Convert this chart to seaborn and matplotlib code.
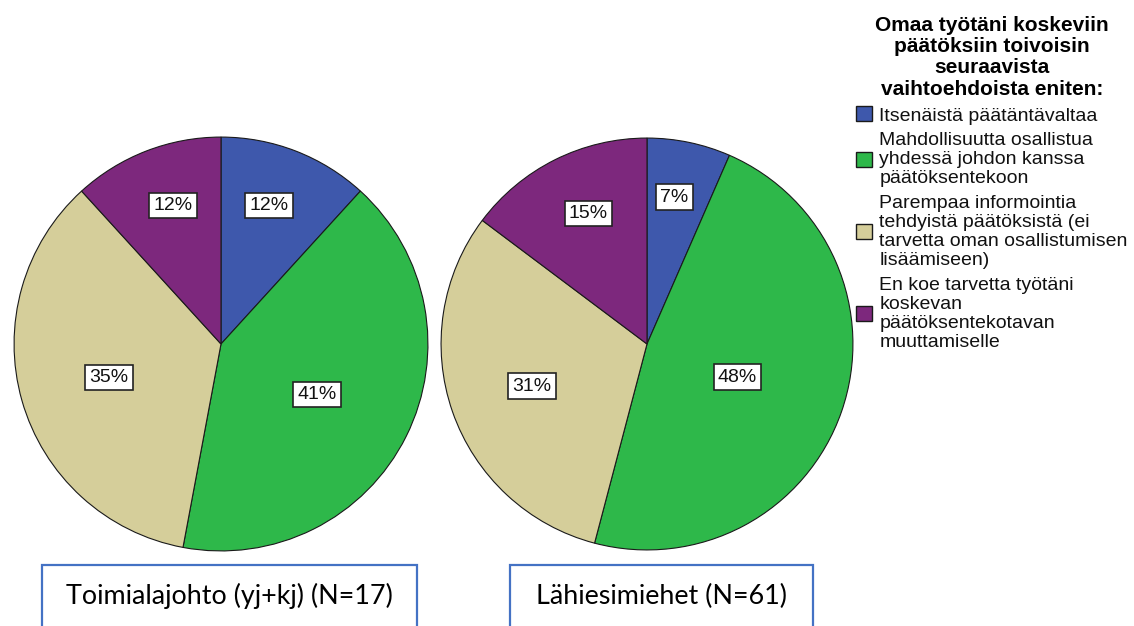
import numpy as np
import matplotlib
matplotlib.use("Agg")
import matplotlib.pyplot as plt
import seaborn as sns
from matplotlib.patches import Rectangle, Patch

sns.set_theme(style="white")
plt.rcParams['font.family'] = ['Liberation Sans', 'DejaVu Sans']

# ---- data ----
categories = [
    "Itsenäistä päätäntävaltaa",
    "Mahdollisuutta osallistua\nyhdessä johdon kanssa\npäätöksentekoon",
    "Parempaa informointia\ntehdyistä päätöksistä (ei\ntarvetta oman osallistumisen\nlisäämiseen)",
    "En koe tarvetta työtäni\nkoskevan\npäätöksentekotavan\nmuuttamiselle",
]
group_titles = ["Toimialajohto (yj+kj) (N=17)", "Lähiesimiehet (N=61)"]
counts_toimialajohto = [2, 7, 6, 2]
counts_lahiesimiehet = [4, 29, 19, 9]
legend_title = "Omaa työtäni koskeviin\npäätöksiin toivoisin\nseuraavista\nvaihtoehdoista eniten:"

colors = ["#3E58AC", "#2EB84A", "#D5CE9A", "#7D287D"]

W, H = 1134, 626
fig = plt.figure(figsize=(W / 100, H / 100), dpi=100)
fig.patch.set_facecolor("white")

def px_axes(cx, cy, r):
    return fig.add_axes([(cx - r) / W, (H - cy - r) / H, 2 * r / W, 2 * r / H])

pie_specs = [(221, 344, 209), (647, 344, 208)]
all_counts = [counts_toimialajohto, counts_lahiesimiehet]

for (cx, cy, r), counts in zip(pie_specs, all_counts):
    ax = px_axes(cx, cy, r)
    total = sum(counts)
    wedges, _ = ax.pie(counts, colors=colors, startangle=90, counterclock=False,
                       radius=1, wedgeprops=dict(edgecolor="#1a1a1a", linewidth=0.8))
    for w, c in zip(wedges, counts):
        a1, a2 = np.deg2rad(w.theta1), np.deg2rad(w.theta2)
        alpha = abs(a2 - a1)
        mid = (a1 + a2) / 2
        d = 4 * np.sin(alpha / 2) / (3 * alpha) * 1.1
        x, y = d * np.cos(mid), d * np.sin(mid)
        x *= 0.9 if alpha < 1.0 else 0.95
        ax.text(x, y, f"{round(100 * c / total)}%",
                ha="center", va="center", fontsize=14, color="#111111",
                bbox=dict(boxstyle="square,pad=0.22", fc="white", ec="#222222", lw=1.2))
    ax.set_xlim(-1.01, 1.01)
    ax.set_ylim(-1.01, 1.01)
    ax.set_aspect("equal")
    ax.axis("off")

# legend
handles = [Patch(facecolor=c, edgecolor="#1a1a1a", linewidth=1.0) for c in colors]
leg = fig.legend(handles, categories, loc="upper left",
                 bbox_to_anchor=(854 / W, 1 - 14 / H), frameon=False,
                 fontsize=14, title=legend_title,
                 title_fontproperties=dict(weight="bold", size=15),
                 handlelength=0.8, handleheight=0.8, handletextpad=0.4,
                 labelspacing=0.4, borderpad=0.1, borderaxespad=0)
leg.get_title().set_multialignment("center")
leg.get_title().set_linespacing(1.15)
leg.get_title().set_color("black")
for t in leg.get_texts():
    t.set_linespacing(1.15)
    t.set_color("#111111")

# bottom boxes
boxes = [(42, 417), (510, 813)]
for (x0, x1), title in zip(boxes, group_titles):
    rect = Rectangle((x0 / W, -20 / H), (x1 - x0) / W, (H - 565 + 20) / H,
                     transform=fig.transFigure, fill=True, fc="white",
                     ec="#4472C4", lw=1.6)
    fig.patches.append(rect)
    fig.text((x0 + x1) / 2 / W, (H - 596) / H, title, ha="center", va="center",
             fontsize=19.4, family="Lato", color="#000000")

fig.savefig("out.png", dpi=100, facecolor="white")
